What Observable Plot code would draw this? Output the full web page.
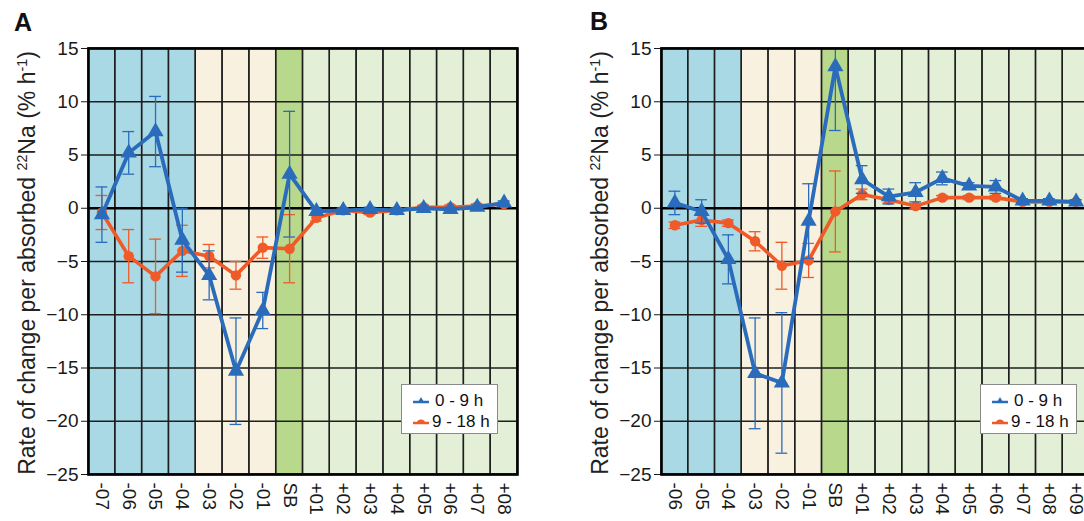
<!DOCTYPE html>
<html><head><meta charset="utf-8">
<script src="https://cdn.jsdelivr.net/npm/d3@7"></script>
<script src="https://cdn.jsdelivr.net/npm/@observablehq/plot@0.6"></script>
<style>
html,body{margin:0;padding:0}
body{width:1084px;height:521px;overflow:hidden;background:#fff;font-family:"Liberation Sans",Arial,sans-serif;position:relative;color:#111}
.panel{position:absolute;top:0}
.letter{position:absolute;font-weight:bold;font-size:25px;line-height:1}
.ylab{position:absolute;font-size:23px;white-space:nowrap;transform:translate(-50%,-50%) rotate(-90deg);line-height:1;color:#222}
.ylab sup{font-size:0.62em;vertical-align:0.55em;line-height:0}
.legend{position:absolute;width:95px;height:48px;background:#fff;border:1px solid #8a8a8a;font-size:17px;color:#111}
.legend .row{position:absolute;left:0;white-space:nowrap;line-height:1}
.legend svg{position:absolute}
</style>
</head><body>
<div id="root"></div>
<script>
// ---------- data ----------
const catsA = ["-07","-06","-05","-04","-03","-02","-01","SB","+01","+02","+03","+04","+05","+06","+07","+08"];
const phasesA = ["pre-early","pre-early","pre-early","pre-early","pre-late","pre-late","pre-late","SB","post","post","post","post","post","post","post","post"];
const blueA    = [-0.6, 5.2, 7.2, -3.0, -6.3, -15.3, -9.6, 3.2, -0.3, -0.2, -0.1, -0.2, 0.0, -0.1, 0.1, 0.5];
const blueErrA = [ 2.6, 2.0, 3.3,  3.0,  2.3,   5.0,  1.7, 5.9,  0.3,  0.2,  0.2,  0.2, 0.2,  0.2, 0.2, 0.2];
const orangeA    = [-0.4, -4.5, -6.4, -4.0, -4.5, -6.3, -3.7, -3.8, -0.9, -0.2, -0.4, -0.2, 0.1, 0.1, 0.2, 0.4];
const orangeErrA = [ 1.6,  2.5,  3.5,  2.4,  1.1,  1.3,  1.0,  3.2,  0.3,  0.2,  0.2,  0.2, 0.2, 0.2, 0.2, 0.2];

const catsB = ["-06","-05","-04","-03","-02","-01","SB","+01","+02","+03","+04","+05","+06","+07","+08","+09"];
const phasesB = ["pre-early","pre-early","pre-early","pre-late","pre-late","pre-late","SB","post","post","post","post","post","post","post","post","post"];
const blueB    = [0.5, -0.3, -4.8, -15.5, -16.4, -1.2, 13.3, 2.7, 1.1, 1.5, 2.8, 2.1, 2.0, 0.7, 0.7, 0.6];
const blueErrB = [1.1,  1.1,  2.3,   5.2,   6.6,  3.5,  6.0, 1.3, 0.7, 0.9, 0.6, 0.3, 0.6, 0.2, 0.2, 0.2];
const orangeB    = [-1.6, -1.1, -1.4, -3.1, -5.4, -4.9, -0.3, 1.3, 0.8, 0.2, 1.0, 1.0, 1.0, 0.6, 0.6, 0.6];
const orangeErrB = [ 0.3,  0.6,  0.3,  0.9,  2.2,  1.6,  3.8, 0.5, 0.3, 0.2, 0.2, 0.2, 0.2, 0.2, 0.2, 0.2];

const yTicks = [-25, -20, -15, -10, -5, 0, 5, 10, 15];
const seriesNames = ["0 - 9 h", "9 - 18 h"];
// ---------- styles ----------
const BLUE = "#2a6cbb", ORANGE = "#ef5a28";
const phaseDomain = ["pre-early","pre-late","SB","post"];
const phaseRange  = ["#a9d9e4","#f8f1e0","#b8d88c","#e4efd7"];

function panel({cats, phases, blue, blueErr, orange, orangeErr, marginLeft, plotW, width}) {
  const rows = cats.map((c, i) => ({c, phase: phases[i], b: blue[i], be: blueErr[i], o: orange[i], oe: orangeErr[i]}));
  const cap = {insetLeft: 7.5, insetRight: 7.5, strokeWidth: 1.3, clip: true};
  return Plot.plot({
    width, height: 521,
    marginLeft, marginRight: width - marginLeft - plotW, marginTop: 48, marginBottom: 47,
    style: {fontFamily: "'Liberation Sans', Arial, sans-serif", fontSize: "19px", color: "#1a1a1a", background: "transparent", overflow: "visible"},
    x: {domain: cats, padding: 0, round: false, tickSize: 0, tickRotate: 90, tickPadding: 8, label: null},
    y: {domain: [-25, 15], ticks: yTicks, tickSize: 7, tickPadding: 3, label: null},
    color: {domain: phaseDomain, range: phaseRange},
    marks: [
      Plot.barY(rows, {x: "c", y1: -25, y2: 15, fill: "phase", inset: 0}),
      Plot.barY(rows, {x: "c", y1: -25, y2: 15, fill: "none", stroke: "#1e1e1e", strokeWidth: 1.4, inset: 0}),
      Plot.ruleY(yTicks, {stroke: "#1e1e1e", strokeWidth: 1.4}),
      Plot.ruleY([0], {stroke: "#000", strokeWidth: 2.6}),
      // orange error bars
      Plot.ruleX(rows, {x: "c", y1: d => d.o - d.oe, y2: d => d.o + d.oe, stroke: ORANGE, strokeWidth: 1.3, clip: true}),
      Plot.tickY(rows, {x: "c", y: d => d.o - d.oe, stroke: ORANGE, ...cap}),
      Plot.tickY(rows, {x: "c", y: d => d.o + d.oe, stroke: ORANGE, ...cap}),
      Plot.line(rows, {x: "c", y: "o", stroke: ORANGE, strokeWidth: 3.6}),
      Plot.dot(rows, {x: "c", y: "o", r: 5.2, fill: ORANGE}),
      // blue error bars
      Plot.ruleX(rows, {x: "c", y1: d => d.b - d.be, y2: d => d.b + d.be, stroke: BLUE, strokeWidth: 1.3, clip: true}),
      Plot.tickY(rows, {x: "c", y: d => d.b - d.be, stroke: BLUE, ...cap}),
      Plot.tickY(rows, {x: "c", y: d => d.b + d.be, stroke: BLUE, ...cap}),
      Plot.line(rows, {x: "c", y: "b", stroke: BLUE, strokeWidth: 3.8}),
      Plot.dot(rows, {x: "c", y: "b", r: 6, symbol: "triangle", fill: BLUE}),
      Plot.frame({stroke: "#000", strokeWidth: 2.6})
    ]
  });
}

const root = document.getElementById("root");
function place(el, left) { el.classList.add("panel"); el.style.left = left + "px"; root.appendChild(el); }

place(panel({cats: catsA, phases: phasesA, blue: blueA, blueErr: blueErrA, orange: orangeA, orangeErr: orangeErrA, marginLeft: 88, plotW: 429, width: 540}), 0);
place(panel({cats: catsB, phases: phasesB, blue: blueB, blueErr: blueErrB, orange: orangeB, orangeErr: orangeErrB, marginLeft: 121, plotW: 428, width: 555}), 540);

function addText(cls, html, left, top) {
  const d = document.createElement("div"); d.className = cls; d.innerHTML = html;
  d.style.left = left + "px"; d.style.top = top + "px"; document.body.appendChild(d); return d;
}
addText("letter", "A", 14, 10);
addText("letter", "B", 590, 9);
const ylabel = "Rate of change per absorbed <sup>22</sup>Na (% h<sup>-1</sup>)";
addText("ylab", ylabel, 27, 263);
addText("ylab", ylabel, 600, 263);

function legend(left, top) {
  const box = document.createElement("div"); box.className = "legend";
  box.style.left = left + "px"; box.style.top = top + "px";
  const sym = [
    `<svg width="16" height="10" style="left:11px;top:11px"><line x1="0" y1="6" x2="16" y2="6" stroke="${BLUE}" stroke-width="2.5"/><path d="M8,1 L11.5,7 L4.5,7 Z" fill="${BLUE}"/></svg>`,
    `<svg width="16" height="10" style="left:11px;top:32px"><line x1="0" y1="6" x2="16" y2="6" stroke="${ORANGE}" stroke-width="2.5"/><path d="M3.5,7 A4.5,4.5 0 0 1 12.5,7 Z" fill="${ORANGE}"/></svg>`
  ];
  box.innerHTML = sym.join("") +
    `<div class="row" style="left:33px;top:7px">${seriesNames[0]}</div>` +
    `<div class="row" style="left:30px;top:28px">${seriesNames[1]}</div>`;
  document.body.appendChild(box);
}
legend(401, 384);
legend(980, 384);
</script>
</body></html>
